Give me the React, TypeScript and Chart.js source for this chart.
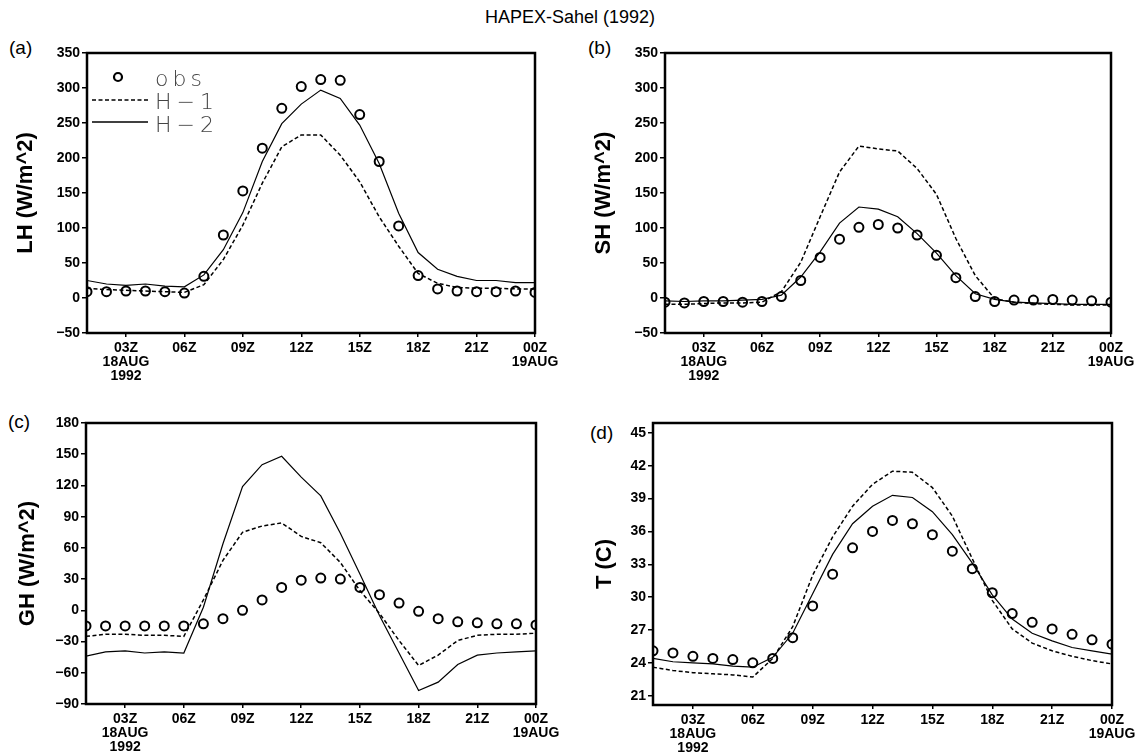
import React, { useEffect, useRef } from "react";
import { Chart, registerables } from "chart.js";

Chart.register(...registerables);

// ---------------- DATA ----------------
const HOURS = [1, 2, 3, 4, 5, 6, 7, 8, 9, 10, 11, 12, 13, 14, 15, 16, 17, 18, 19, 20, 21, 22, 23, 24];
const X_TICK_VALUES = [3, 6, 9, 12, 15, 18, 21, 24];
const X_TICK_LABELS = [["03Z", "18AUG", "1992"], ["06Z"], ["09Z"], ["12Z"], ["15Z"], ["18Z"], ["21Z"], ["00Z", "19AUG"]];

const LH_OBS = [9, 9, 10, 10, 9, 7, 31, 90, 153, 214, 271, 302, 312, 311, 262, 195, 103, 32, 13, 10, 9, 9, 10, 8];
const LH_H1 = [14, 12, 11, 10, 9, 8, 19, 55, 104, 164, 216, 233, 233, 204, 166, 116, 74, 35, 21, 15, 14, 14, 13, 13];
const LH_H2 = [25, 20, 18, 20, 17, 16, 33, 69, 122, 195, 249, 277, 297, 285, 247, 192, 121, 65, 41, 31, 25, 25, 22, 22];
const LH_TICKS = [-50, 0, 50, 100, 150, 200, 250, 300, 350];

const SH_OBS = [-6, -7, -5, -5, -6, -5, 2, 25, 58, 84, 101, 105, 100, 90, 61, 29, 2, -5, -3, -3, -2, -3, -4, -6];
const SH_H1 = [-9, -9, -8, -7, -7, -6, 9, 51, 116, 180, 217, 213, 210, 185, 148, 85, 32, -1, -6, -8, -9, -10, -10, -10];
const SH_H2 = [-4, -5, -4, -4, -3, -2, 4, 30, 66, 107, 130, 127, 116, 92, 64, 32, 6, -2, -6, -7, -8, -9, -9, -9];
const SH_TICKS = [-50, 0, 50, 100, 150, 200, 250, 300, 350];

const GH_OBS = [-15, -15, -15, -15, -15, -15, -13, -8, 0, 10, 22, 29, 31, 30, 22, 15, 7, -1, -8, -11, -12, -13, -13, -14];
const GH_H1 = [-25, -23, -23, -24, -24, -25, 10, 48, 75, 81, 84, 71, 65, 46, 19, -3, -29, -53, -43, -29, -24, -23, -23, -22];
const GH_H2 = [-44, -40, -39, -41, -40, -41, 3, 64, 119, 140, 148, 128, 110, 74, 35, -5, -41, -77, -69, -52, -43, -41, -40, -39];
const GH_TICKS = [-90, -60, -30, 0, 30, 60, 90, 120, 150, 180];

const T_OBS = [25.1, 24.9, 24.6, 24.4, 24.3, 24.0, 24.4, 26.3, 29.2, 32.1, 34.5, 36.0, 37.0, 36.7, 35.7, 34.2, 32.6, 30.4, 28.5, 27.7, 27.1, 26.6, 26.1, 25.7];
const T_H1 = [23.6, 23.3, 23.1, 23.0, 22.9, 22.7, 24.4, 27.3, 32.0, 35.5, 38.3, 40.3, 41.5, 41.4, 40.0, 37.4, 33.5, 29.7, 27.1, 25.8, 25.1, 24.6, 24.2, 23.9];
const T_H2 = [24.4, 24.1, 24.0, 23.9, 23.7, 23.6, 24.5, 26.7, 30.3, 33.9, 36.7, 38.3, 39.3, 39.1, 37.8, 35.7, 33.1, 30.2, 28.0, 26.7, 26.0, 25.4, 25.1, 24.8];
const T_TICKS = [21, 24, 27, 30, 33, 36, 39, 42, 45];

// ---------------- STYLE ----------------
const FONT = '"Liberation Sans", Arial, Helvetica, sans-serif';

const framePlugin = {
  id: "frame",
  afterDraw(chart: any) {
    const { ctx, chartArea: a } = chart;
    ctx.save();
    ctx.strokeStyle = "#000";
    ctx.lineWidth = 2.5;
    ctx.strokeRect(a.left, a.top, a.right - a.left, a.bottom - a.top);
    ctx.restore();
  },
};

const legendPlugin = {
  id: "innerLegend",
  afterDraw(chart: any) {
    const ctx = chart.ctx;
    const oy = -30;
    ctx.save();
    ctx.strokeStyle = "#000";
    ctx.lineWidth = 2.2;
    ctx.beginPath();
    ctx.arc(118, 77 + oy, 4, 0, Math.PI * 2);
    ctx.stroke();
    ctx.lineWidth = 1.5;
    ctx.setLineDash([4, 2.5]);
    ctx.beginPath();
    ctx.moveTo(92, 100 + oy);
    ctx.lineTo(148, 100 + oy);
    ctx.stroke();
    ctx.setLineDash([]);
    ctx.beginPath();
    ctx.moveTo(92, 122 + oy);
    ctx.lineTo(148, 122 + oy);
    ctx.stroke();
    ctx.fillStyle = "#444";
    ctx.font = '200 22px "DejaVu Sans", sans-serif';
    ctx.textBaseline = "alphabetic";
    ctx.textAlign = "left";
    (ctx as any).letterSpacing = "4px";
    ctx.fillText("obs", 155, 86 + oy);
    (ctx as any).letterSpacing = "5px";
    ctx.fillText("H\u22121", 155, 109 + oy);
    ctx.fillText("H\u22122", 155, 132 + oy);
    ctx.restore();
  },
};

const pts = (arr: number[]) => HOURS.map((h, i) => ({ x: h, y: arr[i] }));

type PanelProps = {
  x: number; y: number; w: number; h: number;
  padTop: number; padRight: number; yAxisW: number; xAxisH: number;
  yMin: number; yMax: number; yTicks: number[]; yTitle: string; titlePad: number;
  obs: number[]; h1: number[]; h2: number[]; legend?: boolean;
};

function Panel(p: PanelProps) {
  const ref = useRef<HTMLCanvasElement>(null);
  useEffect(() => {
    if (!ref.current) return;
    const tickFont = { family: FONT, size: 14, weight: "bold" as const, lineHeight: 1.0 };
    const chart = new Chart(ref.current, {
      type: "line",
      data: {
        datasets: [
          { label: "H-2", data: pts(p.h2), borderColor: "#000", borderWidth: 1.2, pointRadius: 0, fill: false, tension: 0 },
          { label: "H-1", data: pts(p.h1), borderColor: "#000", borderWidth: 1.5, borderDash: [4, 2.5], pointRadius: 0, fill: false, tension: 0 },
          {
            label: "obs", data: pts(p.obs), showLine: false, pointRadius: 4.5, pointBorderWidth: 2,
            borderColor: "#000", pointBorderColor: "#000", backgroundColor: "rgba(0,0,0,0)", pointBackgroundColor: "rgba(0,0,0,0)",
          },
        ],
      },
      options: {
        responsive: false,
        animation: false,
        devicePixelRatio: 1,
        layout: { padding: { left: 0, top: p.padTop, right: p.padRight, bottom: 0 } },
        plugins: { legend: { display: false }, tooltip: { enabled: false } },
        scales: {
          x: {
            type: "linear", min: 1, max: 24,
            afterBuildTicks: (s: any) => { s.ticks = X_TICK_VALUES.map((v) => ({ value: v })); },
            afterFit: (s: any) => { s.height = p.xAxisH; },
            ticks: {
              autoSkip: false, maxRotation: 0, minRotation: 0, padding: 4, color: "#000", font: tickFont,
              callback: (v: any) => { const i = X_TICK_VALUES.indexOf(Number(v)); return i >= 0 ? X_TICK_LABELS[i] : ""; },
            },
            grid: { drawOnChartArea: false, drawTicks: true, tickLength: 4, color: "#000", lineWidth: 1.5 },
            border: { display: false },
          },
          y: {
            type: "linear", min: p.yMin, max: p.yMax,
            afterBuildTicks: (s: any) => { s.ticks = p.yTicks.map((v) => ({ value: v })); },
            afterFit: (s: any) => { s.width = p.yAxisW; },
            ticks: {
              autoSkip: false, padding: 2, color: "#000", font: tickFont,
              callback: (v: any) => String(v).replace("-", "\u2212"),
            },
            grid: { drawOnChartArea: false, drawTicks: true, tickLength: 5, color: "#000", lineWidth: 1.5 },
            border: { display: false },
            title: {
              display: true, text: p.yTitle, color: "#000",
              font: { family: FONT, size: 22, weight: "bold", lineHeight: 1.2 },
              padding: { top: p.titlePad, bottom: 0 },
            },
          },
        },
      },
      plugins: p.legend ? [framePlugin, legendPlugin] : [framePlugin],
    } as any);
    return () => chart.destroy();
  }, []);
  return (
    <canvas
      ref={ref}
      width={p.w}
      height={p.h}
      style={{ position: "absolute", left: p.x, top: p.y, width: p.w, height: p.h }}
    />
  );
}

const labelStyle = (left: number, top: number): React.CSSProperties => ({
  position: "absolute", left, top, fontSize: 19, lineHeight: "20px", color: "#000",
});

export default function App() {
  useEffect(() => {
    document.body.style.margin = "0";
  }, []);
  return (
    <div style={{ position: "fixed", left: 0, top: 0, width: 1140, height: 753, background: "#fff", overflow: "hidden", fontFamily: FONT }}>
      <div style={{ position: "absolute", left: 0, top: 7, width: 1140, textAlign: "center", fontSize: 18, lineHeight: "20px", color: "#000" }}>
        HAPEX-Sahel (1992)
      </div>
      <div style={labelStyle(9, 38)}>(a)</div>
      <div style={labelStyle(588, 38)}>(b)</div>
      <div style={labelStyle(8, 412)}>(c)</div>
      <div style={labelStyle(590, 423)}>(d)</div>

      <Panel x={0} y={30} w={570} h={360} padTop={23} padRight={35} yAxisW={87} xAxisH={57}
        yMin={-50} yMax={350} yTicks={LH_TICKS} yTitle="LH (W/m^2)" titlePad={13}
        obs={LH_OBS} h1={LH_H1} h2={LH_H2} legend />
      <Panel x={570} y={30} w={570} h={360} padTop={23} padRight={29} yAxisW={95} xAxisH={57}
        yMin={-50} yMax={350} yTicks={SH_TICKS} yTitle="SH (W/m^2)" titlePad={21}
        obs={SH_OBS} h1={SH_H1} h2={SH_H2} />
      <Panel x={0} y={395} w={570} h={358} padTop={28} padRight={34} yAxisW={86} xAxisH={49}
        yMin={-90} yMax={180} yTicks={GH_TICKS} yTitle="GH (W/m^2)" titlePad={15}
        obs={GH_OBS} h1={GH_H1} h2={GH_H2} />
      <Panel x={570} y={395} w={570} h={358} padTop={28} padRight={28} yAxisW={83} xAxisH={48}
        yMin={20.15} yMax={45.9} yTicks={T_TICKS} yTitle="T (C)" titlePad={22}
        obs={T_OBS} h1={T_H1} h2={T_H2} />
    </div>
  );
}
